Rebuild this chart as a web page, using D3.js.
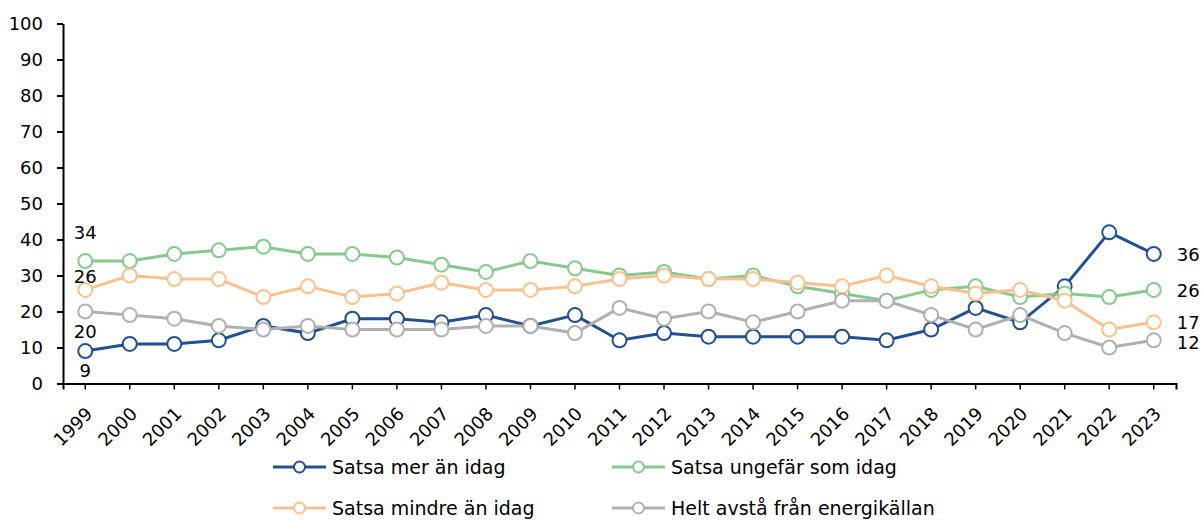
<!DOCTYPE html>
<html><head><meta charset="utf-8">
<script src="https://cdn.jsdelivr.net/npm/d3@7"></script>
<style>
body{margin:0;background:#fff;}
text{font-family:"DejaVu Sans","Noto Sans",sans-serif;fill:#000;}
</style></head>
<body><svg id="c" width="1203" height="520"></svg>
<script>
const years = ["1999","2000","2001","2002","2003","2004","2005","2006","2007","2008","2009","2010","2011","2012","2013","2014","2015","2016","2017","2018","2019","2020","2021","2022","2023"];
const satsaMer = [9,11,11,12,16,14,18,18,17,19,16,19,12,14,13,13,13,13,12,15,21,17,27,42,36];
const satsaUngefar = [34,34,36,37,38,36,36,35,33,31,34,32,30,31,29,30,27,25,23,26,27,24,25,24,26];
const satsaMindre = [26,30,29,29,24,27,24,25,28,26,26,27,29,30,29,29,28,27,30,27,25,26,23,15,17];
const heltAvsta = [20,19,18,16,15,16,15,15,15,16,16,14,21,18,20,17,20,23,23,19,15,19,14,10,12];
const yTicks = [0,10,20,30,40,50,60,70,80,90,100];

const series = [
  {name:"Satsa mer än idag", values:satsaMer, color:"#23508f"},
  {name:"Satsa ungefär som idag", values:satsaUngefar, color:"#86c98e"},
  {name:"Satsa mindre än idag", values:satsaMindre, color:"#f9c18f"},
  {name:"Helt avstå från energikällan", values:heltAvsta, color:"#b0b0b0"}
];

const svg = d3.select("#c");
const L = 63, R = 1176, T = 23.5, B = 383.5;
const x = d3.scaleBand().domain(years).range([L, R]);
const y = d3.scaleLinear().domain([0,100]).range([B, T]);
const cx = d => x(d) + x.bandwidth()/2;

// y axis
const ya = svg.append("g").attr("transform",`translate(${L},0)`)
  .call(d3.axisLeft(y).tickValues(yTicks).tickSize(6).tickSizeOuter(0));
ya.select(".domain").attr("stroke","#000").attr("stroke-width",2);
ya.selectAll(".tick line").attr("stroke","#000").attr("stroke-width",2);
ya.selectAll(".tick text").attr("font-size",18).attr("x",-20).attr("dy","0.36em");

// x axis
const xa = svg.append("g").attr("transform",`translate(0,${B})`)
  .call(d3.axisBottom(x).tickSize(6).tickSizeOuter(6));
xa.select(".domain").attr("stroke","#000").attr("stroke-width",2);
xa.selectAll(".tick line").attr("stroke","#000").attr("stroke-width",1.5);
xa.selectAll(".tick text").attr("font-size",18)
  .attr("text-anchor","end").attr("dy","0.35em").attr("y",0)
  .attr("transform","translate(4,27) rotate(-45)");

// lines
const line = d3.line().x((d,i)=>cx(years[i])).y(d=>y(d));
series.forEach(s=>{
  svg.append("path").attr("d",line(s.values)).attr("fill","none")
    .attr("stroke",s.color).attr("stroke-width",3);
});
series.forEach(s=>{
  svg.append("g").selectAll("circle").data(s.values).join("circle")
    .attr("cx",(d,i)=>cx(years[i])).attr("cy",d=>y(d)).attr("r",7)
    .attr("fill","#fff").attr("stroke",s.color).attr("stroke-width",2);
});

// data labels
const first = years[0], last = years[years.length-1];
const lblStart = [
  {v:satsaUngefar[0], dy:-29},
  {v:satsaMindre[0], dy:-13},
  {v:heltAvsta[0], dy:20},
  {v:satsaMer[0], dy:19}
];
lblStart.forEach(l=>{
  svg.append("text").attr("x",cx(first)).attr("y",y(l.v)+l.dy)
    .attr("text-anchor","middle").attr("dy","0.36em").attr("font-size",18).text(l.v);
});
const lblEnd = [
  {v:satsaMer[24], dy:1},
  {v:satsaUngefar[24], dy:1},
  {v:satsaMindre[24], dy:0},
  {v:heltAvsta[24], dy:2}
];
lblEnd.forEach(l=>{
  svg.append("text").attr("x",cx(last)+23).attr("y",y(l.v)+l.dy)
    .attr("text-anchor","start").attr("dy","0.36em").attr("font-size",18).text(l.v);
});

// legend
const legPos = [[273,467],[612,467],[273,508],[612,508]];
series.forEach((s,i)=>{
  const [lx,ly] = legPos[i];
  const g = svg.append("g");
  g.append("line").attr("x1",lx).attr("x2",lx+53).attr("y1",ly).attr("y2",ly)
    .attr("stroke",s.color).attr("stroke-width",3);
  g.append("circle").attr("cx",lx+26.5).attr("cy",ly).attr("r",5.5)
    .attr("fill","#fff").attr("stroke",s.color).attr("stroke-width",2);
  g.append("text").attr("x",lx+59).attr("y",ly).attr("dy","0.36em")
    .attr("font-size",19).text(s.name);
});
</script></body></html>
